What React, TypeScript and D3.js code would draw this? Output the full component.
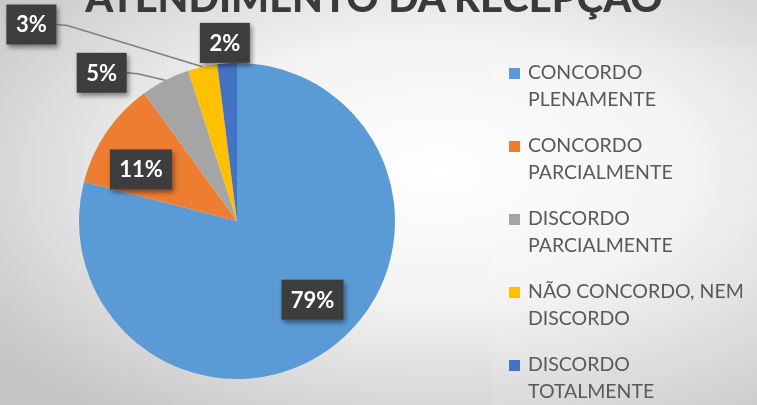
import React from "react";
import * as d3 from "d3";

const categories = [
  "CONCORDO PLENAMENTE",
  "CONCORDO PARCIALMENTE",
  "DISCORDO PARCIALMENTE",
  "NÃO CONCORDO, NEM DISCORDO",
  "DISCORDO TOTALMENTE",
];
const legendLines = [
  ["CONCORDO", "PLENAMENTE"],
  ["CONCORDO", "PARCIALMENTE"],
  ["DISCORDO", "PARCIALMENTE"],
  ["NÃO CONCORDO, NEM", "DISCORDO"],
  ["DISCORDO", "TOTALMENTE"],
];
const values = [79, 11, 5, 3, 2];
const colors = ["#5B9BD5", "#ED7D31", "#A5A5A5", "#FFC000", "#4472C4"];
const title = "ATENDIMENTO DA RECEPÇÃO";

// label layout: radius factor and angular shift (deg) relative to slice mid-angle
const labelRadius = [0.69, 0.69, 1.27, 1.8, 1.13];
const labelShift = [-6, -6, -15.4, -33.7, -0.3];
const hasLeader = [false, false, true, true, false];

const W = 757;
const H = 405;
const cx = 237;
const cy = 221;
const R = 158;

export default function App() {
  const pie = d3.pie<number>().sort(null).value((d) => d);
  const arcs = pie(values);
  const arc = d3.arc<d3.PieArcDatum<number>>().innerRadius(0).outerRadius(R);
  const total = d3.sum(values);
  const fmt = (v: number) => `${Math.round((v / total) * 100)}%`;
  const font = "Lato, 'Open Sans', sans-serif";

  return (
    <svg
      width={W}
      height={H}
      style={{ position: "fixed", left: 0, top: 0 }}
      xmlns="http://www.w3.org/2000/svg"
    >
      <defs>
        <radialGradient id="bg" cx="58%" cy="42%" r="75%">
          <stop offset="0%" stopColor="#ffffff" />
          <stop offset="45%" stopColor="#f2f2f2" />
          <stop offset="100%" stopColor="#c4c4c4" />
        </radialGradient>
        <filter id="shadow" x="-30%" y="-30%" width="160%" height="160%">
          <feDropShadow dx="2" dy="3" stdDeviation="2.5" floodColor="#000" floodOpacity="0.45" />
        </filter>
      </defs>
      <rect x={0} y={0} width={W} height={H} fill="url(#bg)" />
      <rect x={493} y={47} width={W - 493} height={H - 47} fill="#ffffff" opacity={0.1} />

      <text
        x={374}
        y={12}
        textAnchor="middle"
        fontFamily={font}
        fontWeight={900}
        fontSize={40}
        fill="#3a3a3a"
      >
        {title}
      </text>

      <g transform={`translate(${cx},${cy})`}>
        {arcs.map((a, i) => (
          <path key={i} d={arc(a) || ""} fill={colors[i]} />
        ))}
      </g>

      {arcs.map((a, i) => {
        const mid = (a.startAngle + a.endAngle) / 2;
        const ang = mid + (labelShift[i] * Math.PI) / 180;
        const lr = labelRadius[i] * R;
        const lx = cx + lr * Math.sin(ang);
        const ly = cy - lr * Math.cos(ang);
        const txt = fmt(values[i]);
        const bw = txt.length === 3 ? 62 : 50;
        const bh = 40;
        let leader = null;
        if (hasLeader[i]) {
          const px = cx + R * Math.sin(mid);
          const py = cy - R * Math.cos(mid);
          const sx = lx + bw / 2;
          const sy = ly;
          leader = (
            <polyline
              points={`${sx},${sy} ${sx + 11},${sy + 1} ${px},${py}`}
              fill="none"
              stroke="#7f7f7f"
              strokeWidth={1.5}
            />
          );
        }
        return (
          <g key={i}>
            {leader}
            <rect
              x={lx - bw / 2}
              y={ly - bh / 2}
              width={bw}
              height={bh}
              fill="#3d3d3d"
              filter="url(#shadow)"
            />
            <text
              x={lx}
              y={ly}
              dy="0.36em"
              textAnchor="middle"
              fontFamily={font}
              fontWeight={700}
              fontSize={22}
              fill="#ffffff"
            >
              {txt}
            </text>
          </g>
        );
      })}

      {categories.map((c, i) => {
        const y0 = 65 + i * 73;
        return (
          <g key={c}>
            <rect x={509} y={y0 + 3} width={11} height={11} fill={colors[i]} />
            {legendLines[i].map((ln, j) => (
              <text
                key={j}
                x={528}
                y={y0 + 14 + j * 27}
                fontFamily={font}
                fontSize={19.5}
                fill="#595959"
              >
                {ln}
              </text>
            ))}
          </g>
        );
      })}
    </svg>
  );
}
